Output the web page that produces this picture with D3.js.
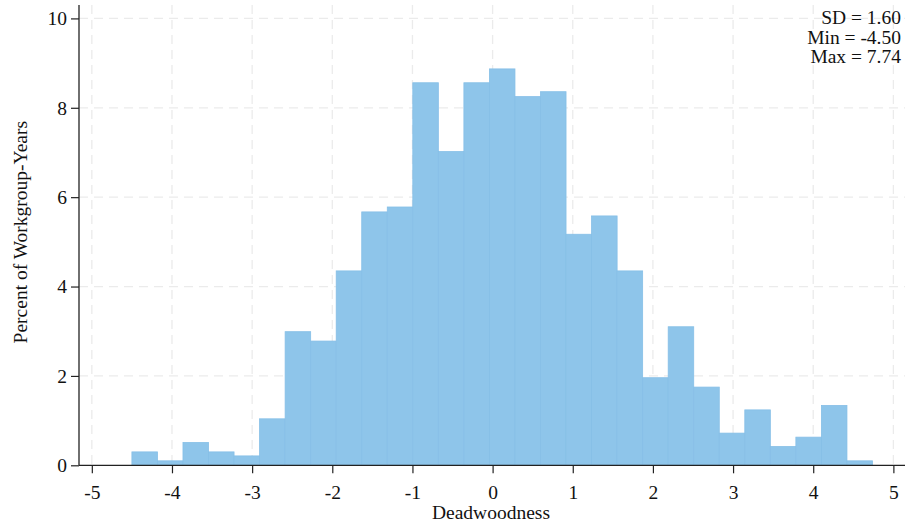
<!DOCTYPE html>
<html>
<head>
<meta charset="utf-8">
<script src="https://cdn.jsdelivr.net/npm/d3@7"></script>
<style>
  html, body { margin: 0; padding: 0; background: #fff; }
  svg { display: block; }
  text { font-family: "Liberation Serif", "DejaVu Serif", serif; fill: #111; }
</style>
</head>
<body>
<svg id="chart" width="906" height="525"></svg>
<script>
// Histogram of deadwoodness: bins start at -4.50, equal width
const binStart = -4.50;
const binWidth = 0.3186;
const percents = [0.30, 0.10, 0.51, 0.30, 0.21, 1.04, 2.99, 2.78, 4.35, 5.67,
                  5.78, 8.56, 7.02, 8.56, 8.87, 8.25, 8.36, 5.17, 5.58, 4.35,
                  1.96, 3.10, 1.75, 0.72, 1.24, 0.42, 0.63, 1.34, 0.10];
const xTicks = [-5, -4, -3, -2, -1, 0, 1, 2, 3, 4, 5];
const yTicks = [0, 2, 4, 6, 8, 10];
const statsLines = ["SD = 1.60", "Min = -4.50", "Max = 7.74"];

const bins = percents.map((p, i) => ({
  x0: binStart + i * binWidth,
  x1: binStart + (i + 1) * binWidth,
  p
}));

const svg = d3.select("#chart");
const plotL = 79, plotR = 905, plotT = 5, plotB = 465.3;
const fontSize = 19.5;

const x = d3.scaleLinear().domain([-5.16, 5.145]).range([plotL, plotR]);
const y = d3.scaleLinear().domain([0, 10.3]).range([plotB, plotT]);

// Dashed grid lines
const grid = svg.append("g");
grid.selectAll("line.gx").data(xTicks).join("line")
  .attr("class", "gx")
  .attr("x1", d => x(d)).attr("x2", d => x(d))
  .attr("y1", plotT).attr("y2", plotB)
  .attr("stroke", "#ebebeb").attr("stroke-width", 1.3)
  .attr("stroke-dasharray", "9,6");
grid.selectAll("line.gy").data(yTicks.filter(d => d > 0)).join("line")
  .attr("class", "gy")
  .attr("x1", plotL).attr("x2", plotR)
  .attr("y1", d => y(d)).attr("y2", d => y(d))
  .attr("stroke", "#ebebeb").attr("stroke-width", 1.3)
  .attr("stroke-dasharray", "9,6");

// Bars
svg.append("g").selectAll("rect").data(bins).join("rect")
  .attr("x", d => x(d.x0))
  .attr("width", d => x(d.x1) - x(d.x0))
  .attr("y", d => y(d.p))
  .attr("height", d => y(0) - y(d.p))
  .attr("fill", "#8ec5ea")
  .attr("stroke", "#86bfe7")
  .attr("stroke-width", 0.8);

// Axes
const xAxis = d3.axisBottom(x).tickValues(xTicks).tickSize(8).tickPadding(12)
  .tickFormat(d => String(d));
const gx = svg.append("g").attr("transform", `translate(0,${plotB})`).call(xAxis);
gx.select(".domain").attr("d", `M${plotL},0H${plotR}`).attr("stroke", "#222").attr("stroke-width", 1.3);
gx.selectAll(".tick line").attr("stroke", "#222").attr("stroke-width", 1.2);
gx.selectAll(".tick text").attr("font-size", fontSize).attr("font-family", "Liberation Serif, serif").attr("fill", "#111");

const yAxis = d3.axisLeft(y).tickValues(yTicks).tickSize(8).tickPadding(4)
  .tickFormat(d => String(d));
const gy = svg.append("g").attr("transform", `translate(${plotL},0)`).call(yAxis);
gy.select(".domain").attr("d", `M0,${plotT}V${plotB}`).attr("stroke", "#222").attr("stroke-width", 1.3);
gy.selectAll(".tick line").attr("stroke", "#222").attr("stroke-width", 1.2);
gy.selectAll(".tick text").attr("font-size", fontSize).attr("font-family", "Liberation Serif, serif").attr("fill", "#111");

// Axis titles
svg.append("text")
  .attr("x", (plotL + plotR) / 2 - 1).attr("y", 519)
  .attr("text-anchor", "middle").attr("font-size", fontSize)
  .text("Deadwoodness");
svg.append("text")
  .attr("transform", `translate(27,${(plotT + plotB) / 2 - 3}) rotate(-90)`)
  .attr("text-anchor", "middle").attr("font-size", fontSize)
  .text("Percent of Workgroup-Years");

// Summary statistics
svg.append("g").selectAll("text").data(statsLines).join("text")
  .attr("x", 901).attr("y", (d, i) => 24 + i * 19.5)
  .attr("text-anchor", "end").attr("font-size", fontSize)
  .text(d => d);
</script>
</body>
</html>
